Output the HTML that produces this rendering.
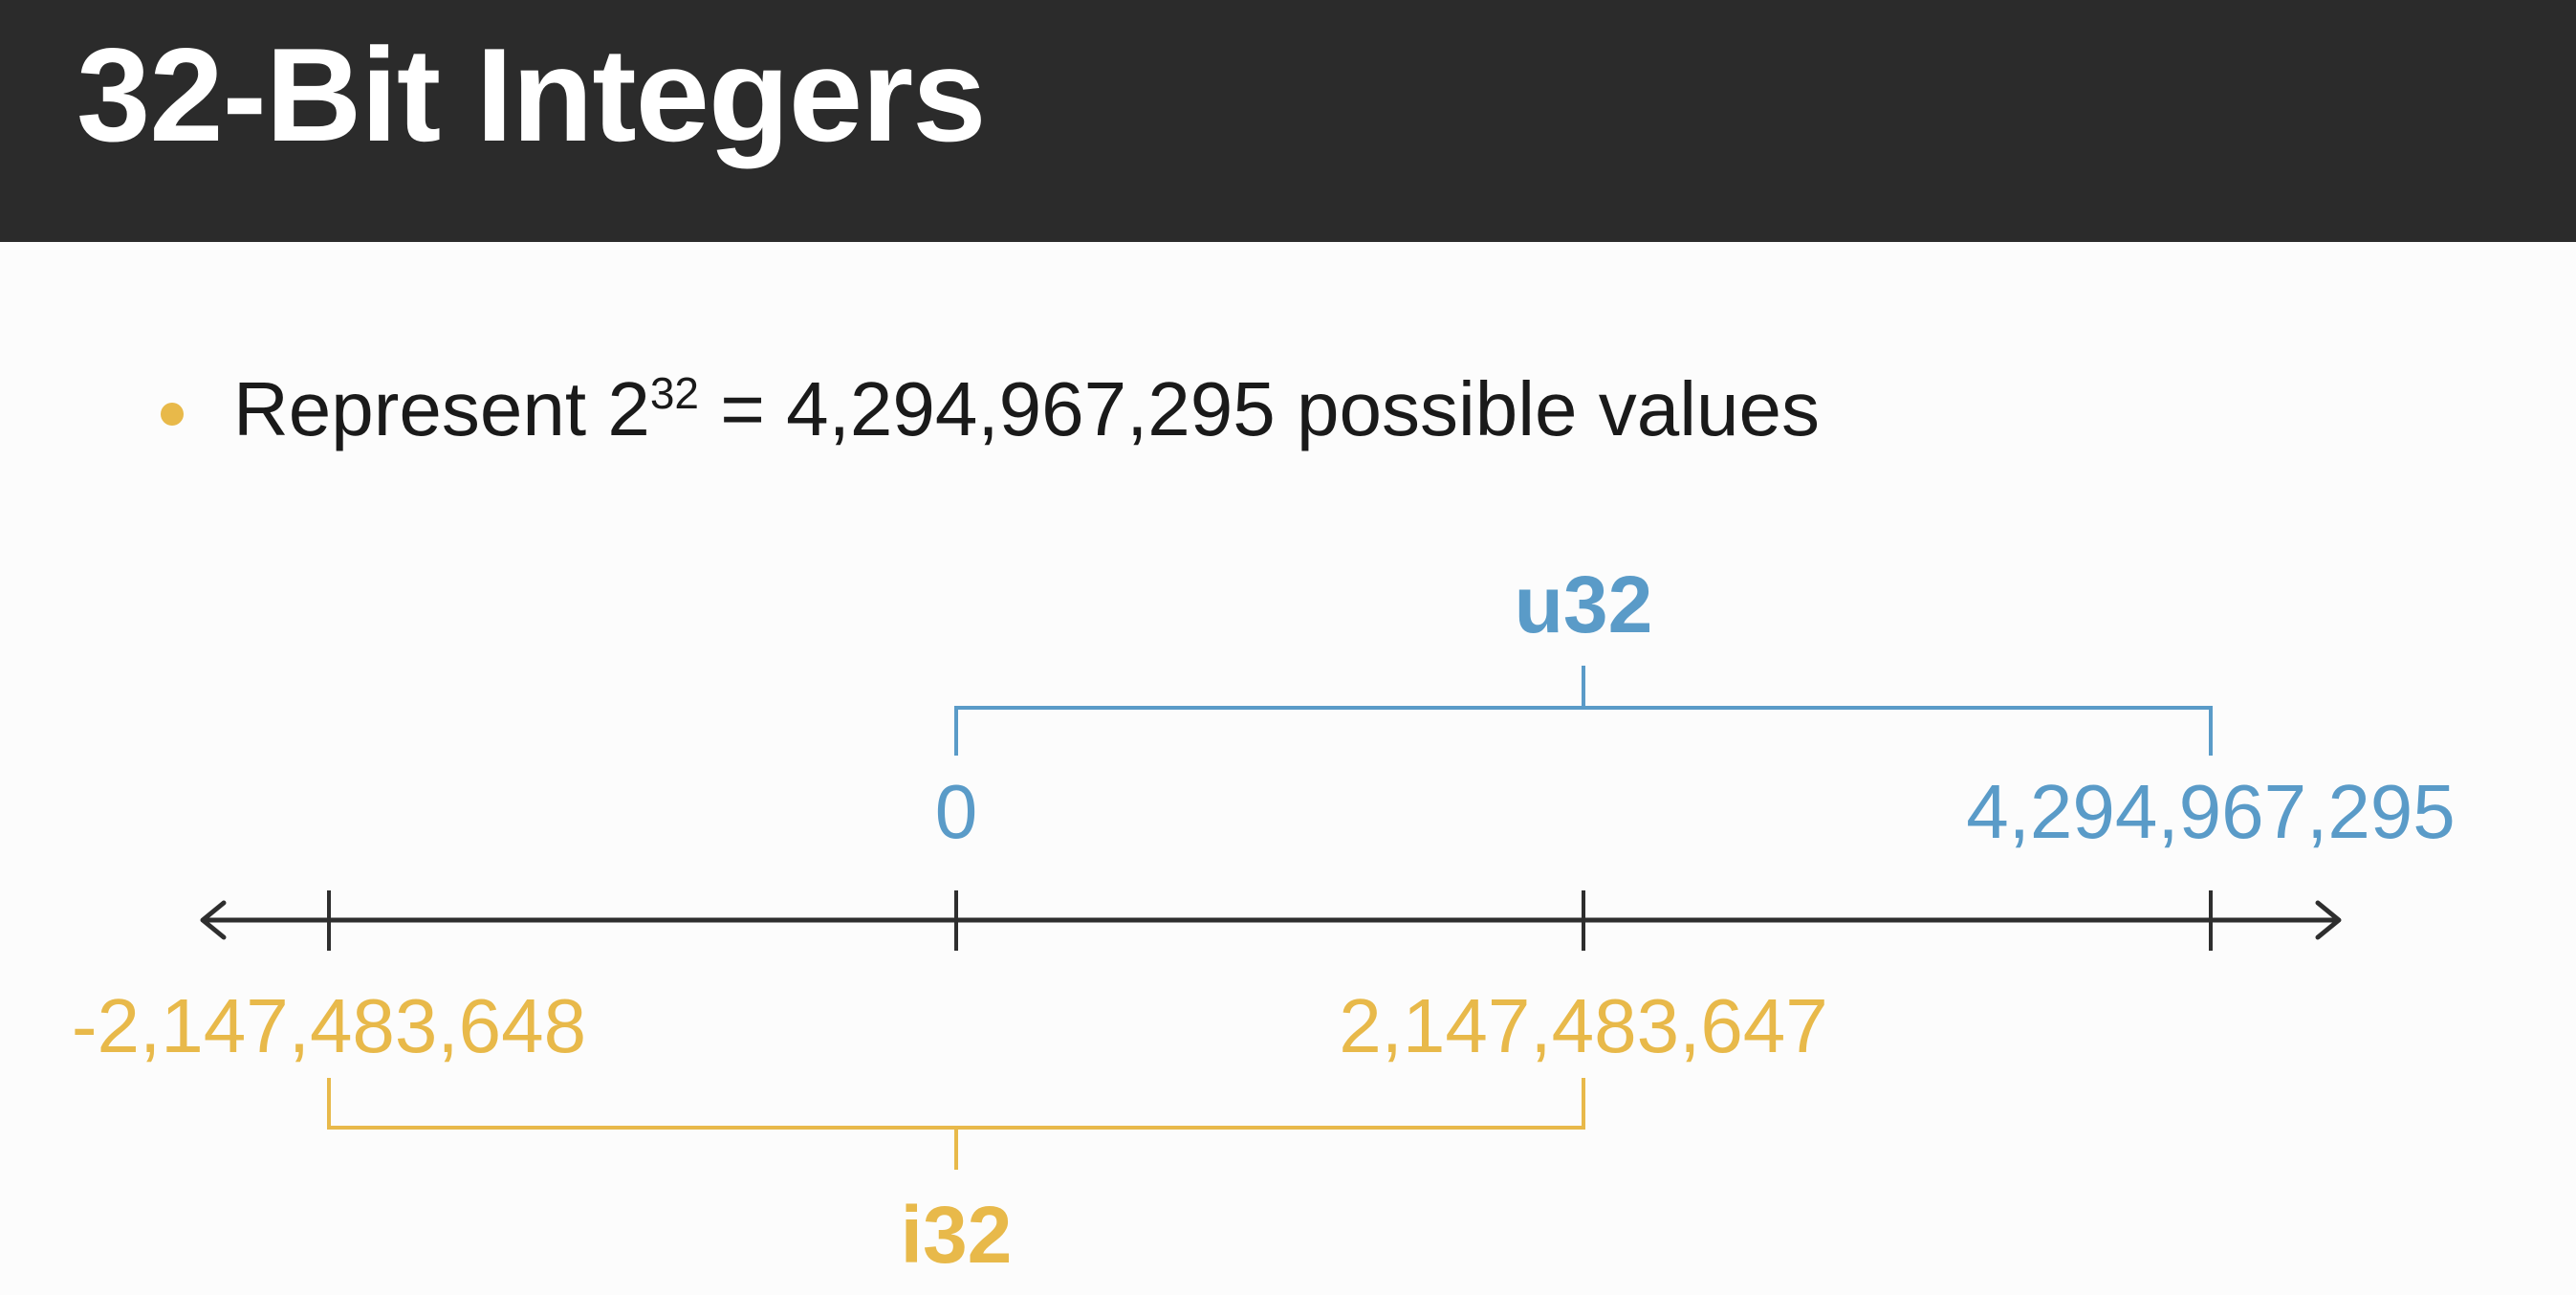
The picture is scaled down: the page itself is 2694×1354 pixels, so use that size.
<!DOCTYPE html>
<html><head><meta charset="utf-8"><style>
html,body{margin:0;padding:0;background:#fcfcfc;}
body{width:2694px;height:1354px;overflow:hidden;position:relative;font-family:"Liberation Sans",sans-serif;}
#header{position:absolute;left:0;top:0;width:2694px;height:253px;background:#2b2b2b;}
#title{position:absolute;left:80px;top:20px;font-size:139px;font-weight:bold;color:#fff;letter-spacing:-1px;white-space:nowrap;}
#bullet{position:absolute;left:168px;top:421px;width:24px;height:24px;border-radius:50%;background:#e8b94a;}
#btext{position:absolute;left:244px;top:382px;font-size:80px;color:#1a1a1a;white-space:nowrap;}
#btext sup{font-size:46px;vertical-align:0;position:relative;top:-28px;}
svg{position:absolute;left:0;top:0;}
</style></head><body>
<div id="header"><div id="title">32-Bit Integers</div></div>
<div id="bullet"></div>
<div id="btext">Represent 2<sup>32</sup> = 4,294,967,295 possible values</div>
<svg id="chart" width="2694" height="1354"></svg>
<script>
const tickValues = [-2147483648, 0, 2147483647, 4294967295];
const tickLabels = ["-2,147,483,648", "0", "2,147,483,647", "4,294,967,295"];
const u32Range = [0, 4294967295];
const i32Range = [-2147483648, 2147483647];
const BLUE = "#5a9bc8", YEL = "#e8b94a", DARK = "#2e2e2e";
const svg = document.getElementById('chart');
const NS = "http://www.w3.org/2000/svg";
function x(v){ return 1000 + v / 2147483648 * 656; }
const axisY = 962;
function mk(tag, attrs, parent){
  const e = document.createElementNS(NS, tag);
  for (const k in attrs) e.setAttribute(k, attrs[k]);
  (parent || svg).appendChild(e);
  return e;
}
let ax = mk('line', {x1: 212, y1: axisY, x2: 2446, y2: axisY, stroke: DARK, 'stroke-width': 5});


let la = mk('polyline', {points: '234,944 212,962 234,980', fill: 'none', stroke: DARK, 'stroke-width': 5, 'stroke-linecap': 'round', 'stroke-linejoin': 'round'});


let ra = mk('polyline', {points: '2424,944 2446,962 2424,980', fill: 'none', stroke: DARK, 'stroke-width': 5, 'stroke-linecap': 'round', 'stroke-linejoin': 'round'});


tickValues.forEach((v, i) => {
  const t = mk('line', {x1: x(v), y1: 931, x2: x(v), y2: 994, stroke: DARK, 'stroke-width': 4});
  
  
});
const u0 = x(u32Range[0]), u1 = x(u32Range[1]), um = (u0 + u1) / 2;
const ub = mk('path', {d: `M${u0},790 V740 H${u1} V790 M${um},740 V696`, fill: 'none', stroke: BLUE, 'stroke-width': 4});


const ut = mk('text', {x: um, y: 661, 'text-anchor': 'middle', 'font-size': 84, 'font-weight': 'bold', fill: BLUE, 'font-family': 'Liberation Sans, sans-serif'});
ut.textContent = 'u32';


const i0 = x(i32Range[0]), i1 = x(i32Range[1]), im = (i0 + i1) / 2;
const ib = mk('path', {d: `M${i0},1127 V1179 H${i1} V1127 M${im},1179 V1223`, fill: 'none', stroke: YEL, 'stroke-width': 4});


const it = mk('text', {x: im, y: 1320, 'text-anchor': 'middle', 'font-size': 84, 'font-weight': 'bold', fill: YEL, 'font-family': 'Liberation Sans, sans-serif'});
it.textContent = 'i32';


tickValues.forEach((v, i) => {
  const blue = (v === u32Range[0] || v === u32Range[1]);
  const t = mk('text', {x: x(v), y: blue ? 876 : 1100, 'text-anchor': 'middle', 'font-size': 80, fill: blue ? BLUE : YEL, 'font-family': 'Liberation Sans, sans-serif'});
  t.textContent = tickLabels[i];
  
  
});
</script>
</body></html>
